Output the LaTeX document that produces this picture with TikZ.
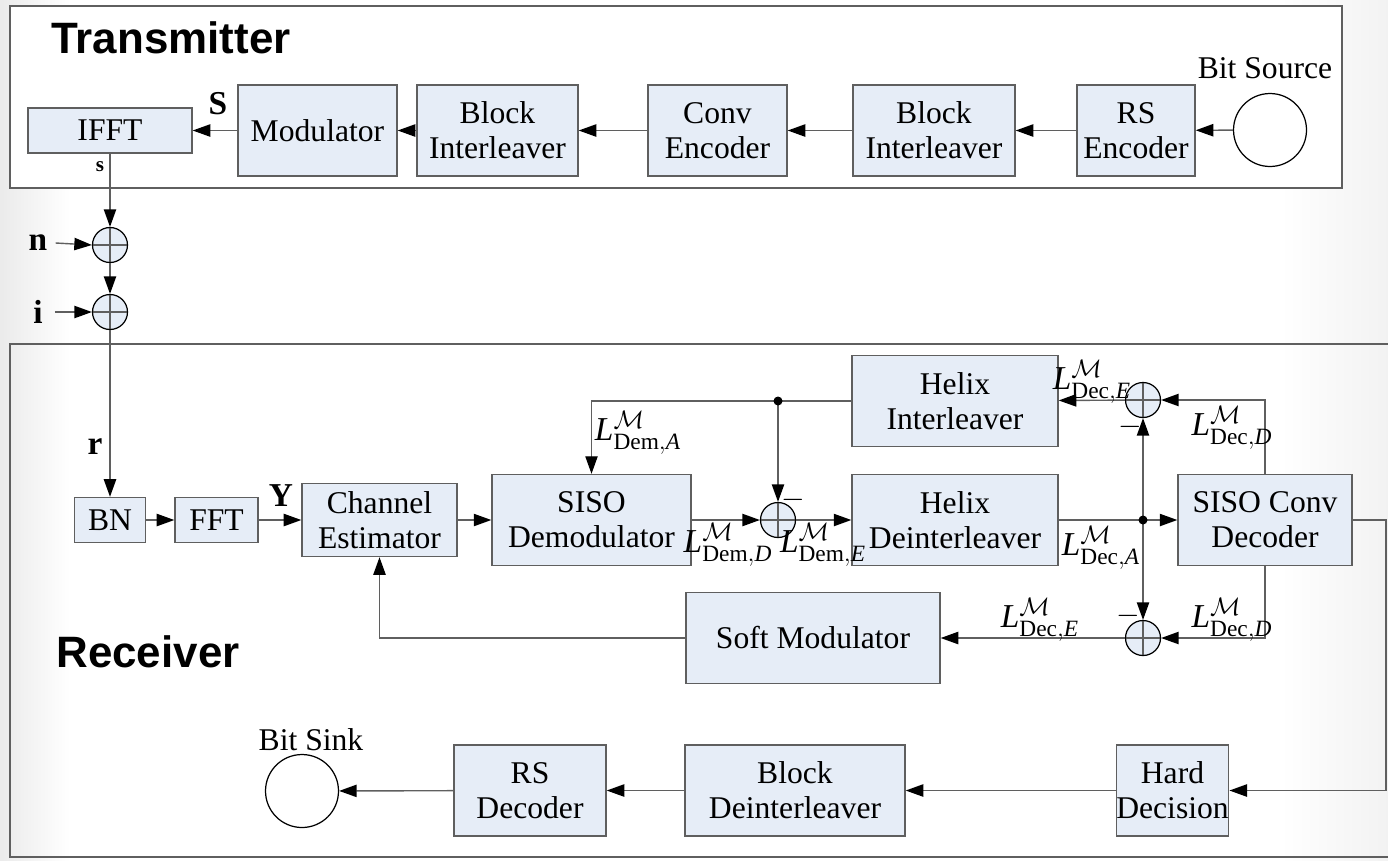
\documentclass[tikz,border=0pt]{standalone}
\usepackage{amsmath}
\usepackage{amssymb}
\usepackage{fontspec}
\setmainfont{Liberation Serif}
\setsansfont{Liberation Sans}
\usepackage{tikz}
\usetikzlibrary{arrows.meta}
\definecolor{blkfill}{RGB}{230,237,247}
\definecolor{linegray}{RGB}{95,95,95}
\newcommand{\llrlab}[2]{$\textit{L}^{\mathcal{M}}_{\text{#1},\textit{#2}}$}

\begin{document}
\begin{tikzpicture}[x=0.02cm, y=-0.02cm,
    every node/.style={font=\fontsize{18}{20}\selectfont},
    blk/.style={draw=linegray, fill=blkfill, line width=0.8pt, align=center, inner sep=0pt, minimum height=1.82cm},
    sumc/.style={circle, draw=black, fill=blkfill, line width=0.7pt, minimum size=0.7cm, inner sep=0pt,
        path picture={\draw[linegray, line width=0.7pt] (path picture bounding box.north) -- (path picture bounding box.south)
            (path picture bounding box.west) -- (path picture bounding box.east);}},
    endc/.style={circle, draw=black, line width=0.7pt, minimum size=1.46cm, inner sep=0pt},
    frame/.style={draw=linegray, line width=1pt},
    title/.style={font=\fontsize{25}{28}\selectfont\sffamily\bfseries, inner sep=0pt},
    sig/.style={font=\fontsize{19}{20}\selectfont\bfseries, inner sep=0pt},
    llr/.style={inner sep=0pt, font=\fontsize{19}{20}\selectfont},
    conn/.style={draw=linegray, line width=0.8pt, -{Triangle[length=10pt,width=7pt,color=black]}},
    wire/.style={draw=linegray, line width=0.8pt}]
    \useasboundingbox (0,0) rectangle (1388,860);
    % slide shading
    \shade[left color=black!8, right color=white] (0,0) rectangle (70,860);
    \shade[left color=white, right color=black!5] (1280,0) rectangle (1388,860);

    % frames
    \draw[frame, fill=white] (10,6) rectangle (1342,188);
    \draw[frame] (1400,344) -- (10,344) -- (10,857) -- (1400,857);
    \node[title] (txt) at (171,38) {Transmitter};
    \node[title] (rxt) at (148,652) {Receiver};

    % transmitter
    \node[endc] (src) at (1270,130) {};
    \node (srcl) at (1265,68) {Bit Source};
    \node[blk, minimum width=2.36cm] (rsenc) at (1136,130.5) {RS\\Encoder};
    \node[blk, minimum width=3.24cm] (bint2) at (934,130.5) {Block\\Interleaver};
    \node[blk, minimum width=2.78cm] (cenc) at (717.5,130.5) {Conv\\Encoder};
    \node[blk, minimum width=3.22cm] (bint1) at (497.5,130.5) {Block\\Interleaver};
    \node[blk, minimum width=3.18cm] (mod) at (317.5,130.5) {Modulator};
    \node[blk, minimum width=3.28cm, minimum height=0.9cm] (ifft) at (110,130.5) {IFFT};
    \node[sig] (lS) at (218,104) {S};
    \node[sig, font=\fontsize{12}{14}\selectfont\bfseries] (ls) at (100,167) {s};

    \draw[conn] (src) -- (rsenc);
    \draw[conn] (rsenc) -- (bint2);
    \draw[conn] (bint2) -- (cenc);
    \draw[conn] (cenc) -- (bint1);
    \draw[conn] (bint1) -- (mod);
    \draw[conn] (mod) -- (ifft);

    % channel
    \node[sumc] (sn) at (110,245) {};
    \node[sumc] (si) at (110,312) {};
    \node[sig] (ln) at (38,243) {n};
    \node[sig] (li) at (38,312) {i};
    \draw[conn] (ln.east) ++(8,0) coordinate (nin) (nin) -- (sn.west);
    \draw[conn] (ifft.south) -- (sn.north);
    \draw[conn] (sn.south) -- (si.north);
    \draw[conn] (li.east) ++(12,0) coordinate (iin) (iin) -- (si.west);

    % receiver
    \node[blk, minimum width=1.42cm, minimum height=0.9cm] (bn) at (110,520) {BN};
    \node[blk, minimum width=1.66cm, minimum height=0.9cm] (fft) at (216.5,520) {FFT};
    \node[blk, minimum width=3.1cm, minimum height=1.46cm] (chest) at (379.5,520) {Channel\\Estimator};
    \node[blk, minimum width=3.98cm] (demod) at (591.5,520) {SISO\\Demodulator};
    \node[sumc] (sd) at (778,520) {};
    \node[blk, minimum width=4.12cm] (hdeint) at (955,520) {Helix\\Deinterleaver};
    \node[blk, minimum width=4.12cm] (hint) at (955,401) {Helix\\Interleaver};
    \node[blk, minimum width=3.48cm] (dec) at (1265,520) {SISO Conv\\Decoder};
    \node[sumc] (se) at (1143,400) {};
    \node[sumc] (sf) at (1143,638) {};
    \node[blk, minimum width=5.08cm] (smod) at (813,638) {Soft Modulator};
    \node[blk, minimum width=1.98cm] (hard) at (1172.5,790.5) {Hard\\Decision};
    \node[blk, minimum width=4.4cm] (bdeint) at (795,790.5) {Block\\Deinterleaver};
    \node[blk, minimum width=3.04cm] (rsdec) at (530,790.5) {RS\\Decoder};
    \node[endc] (sink) at (302,791) {};
    \node (sinkl) at (311,740) {Bit Sink};

    \node[sig] (lr) at (95,447) {r};
    \node[sig] (lY) at (281,496) {Y};
    \coordinate (jfb) at (778,401);
    \coordinate (jdec) at (1143,520);
    \coordinate (rout) at (1386,520);

    \draw[conn] (si.south) -- (bn.north);
    \draw[conn] (bn) -- (fft);
    \draw[conn] (fft) -- (chest);
    \draw[conn] (chest) -- (demod);
    \draw[conn] (demod) -- (sd);
    \draw[conn] (sd) -- (hdeint);
    \draw[wire] (hdeint) -- (jdec);
    \draw[conn] (jdec) -- (dec);
    \draw[conn] (jdec) -- (se.south);
    \draw[conn] (jdec) -- (sf.north);
    \draw[conn] (dec.north) |- (se.east);
    \draw[conn] (dec.south) |- (sf.east);
    \draw[conn] (se) -- (hint);
    \draw[conn] (hint.west) -- (jfb) -| (demod.north);
    \draw[conn] (jfb) -- (sd.north);
    \draw[conn] (sf) -- (smod);
    \draw[conn] (smod.west) -| (chest.south);
    \draw[conn] (dec.east) -- (rout) |- (hard.east);
    \draw[conn] (hard) -- (bdeint);
    \draw[conn] (bdeint) -- (rsdec);
    \draw[conn] (rsdec) -- (sink);
    \fill (jfb) circle (4.5);
    \fill (jdec) circle (4.5);

    % llr labels
    \node[llr] (lda) at (638,433) {\llrlab{Dem}{A}};
    \node[llr] (ldd) at (728,545) {\llrlab{Dem}{D}};
    \node[llr] (lde) at (823,545) {\llrlab{Dem}{E}};
    \node[llr] (lca) at (1101,548) {\llrlab{Dec}{A}};
    \node[llr] (lce2) at (1040,620) {\llrlab{Dec}{E}};
    \node[llr] (lcd1) at (1232,428) {\llrlab{Dec}{D}};
    \node[llr] (lcd2) at (1232,620) {\llrlab{Dec}{D}};
    \node[llr] (lce1) at (1092,382) {\llrlab{Dec}{E}};
    \node[llr] (m1) at (793,500) {$-$};
    \node[llr] (m2) at (1130,427) {$-$};
    \node[llr] (m3) at (1128,616) {$-$};
\end{tikzpicture}
\end{document}
